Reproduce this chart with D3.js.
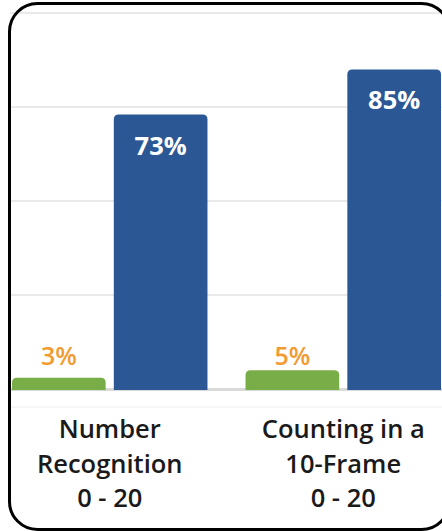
<!DOCTYPE html>
<html>
<head>
<meta charset="utf-8">
<script src="https://cdn.jsdelivr.net/npm/d3@7"></script>
<style>
  html, body { margin: 0; padding: 0; background: #fff; overflow: hidden; }
  svg { display: block; }
</style>
</head>
<body>
<script>
var categories = ['Number Recognition 0 - 20', 'Counting in a 10-Frame 0 - 20'];
var categoryLines = [
	['Number', 'Recognition', '0 - 20'],
	['Counting in a', '10-Frame', '0 - 20']
];
var series = ['pre', 'post'];
var preValues = [3, 5];
var postValues = [73, 85];
var yTicks = [0, 25, 50, 75, 100];

var width = 442,
	height = 531;

var colors = {pre: '#79ad47', post: '#2b5794'};
var labelColors = {pre: '#f39a31', post: '#ffffff'};

var svg = d3.select('body')
	.append('svg')
	.attr('width', width)
	.attr('height', height);

var dataList = categories.map((c, i) => ({
	key: c,
	lines: categoryLines[i],
	values: [
		{series: 'pre', value: preValues[i]},
		{series: 'post', value: postValues[i]}
	]
}));

var xScale = d3.scaleBand()
	.domain(categories)
	.range([12, 441])
	.paddingInner(0.163)
	.paddingOuter(0);

var xInner = d3.scaleBand()
	.domain(series)
	.range([0, xScale.bandwidth()])
	.paddingInner(0.08);

var yScale = d3.scaleLinear()
	.domain([0, 100])
	.range([389, 13]);

// gridlines
svg.append('g')
	.selectAll('line')
	.data(yTicks.filter(t => t > 0))
	.enter()
	.append('line')
	.attr('x1', 10)
	.attr('x2', width)
	.attr('y1', d => yScale(d))
	.attr('y2', d => yScale(d))
	.attr('stroke', '#d6d6d6')
	.attr('stroke-width', 1.2);

// baseline
svg.append('line')
	.attr('x1', 10)
	.attr('x2', width)
	.attr('y1', yScale(0) + 0.5)
	.attr('y2', yScale(0) + 0.5)
	.attr('stroke', '#d9d9d9')
	.attr('stroke-width', 3);

svg.append('line')
	.attr('x1', 10)
	.attr('x2', width)
	.attr('y1', yScale(0) + 18)
	.attr('y2', yScale(0) + 18)
	.attr('stroke', '#ececec')
	.attr('stroke-width', 1);

function topRounded(x, y, w, h, r) {
	r = Math.min(r, h, w / 2);
	return `M${x},${y + h}V${y + r}Q${x},${y} ${x + r},${y}H${x + w - r}Q${x + w},${y} ${x + w},${y + r}V${y + h}Z`;
}

var groups = svg.selectAll('.group')
	.data(dataList)
	.enter()
	.append('g')
	.attr('class', 'group')
	.attr('transform', d => `translate(${xScale(d.key)}, 0)`);

var bars = groups.selectAll('.bar')
	.data(d => d.values)
	.enter()
	.append('g')
	.attr('class', 'bar');

bars.append('path')
	.attr('d', d => {
		var y = yScale(d.value);
		return topRounded(xInner(d.series), y, xInner.bandwidth(), yScale(0) + 1 - y, 5);
	})
	.attr('fill', d => colors[d.series]);

// value labels: inside the tall bars, just above the short ones
bars.append('text')
	.text(d => d.value + '%')
	.attr('x', d => xInner(d.series) + xInner.bandwidth() / 2)
	.attr('y', d => d.series === 'post' ? yScale(d.value) + 40 : yScale(0) - 24)
	.attr('text-anchor', 'middle')
	.attr('fill', d => labelColors[d.series])
	.attr('font-family', '"Open Sans", sans-serif')
	.attr('font-weight', d => d.series === 'post' ? 700 : 600)
	.attr('font-size', d => d.series === 'post' ? 25.5 : 25);

// category labels
groups.append('text')
	.attr('text-anchor', 'middle')
	.attr('fill', '#1a1a1a')
	.attr('font-family', '"Open Sans", sans-serif')
	.attr('font-weight', 600)
	.attr('font-size', 25.5)
	.selectAll('tspan')
	.data(d => d.lines)
	.enter()
	.append('tspan')
	.attr('x', xScale.bandwidth() / 2)
	.attr('y', (d, i) => 438 + i * 34.5)
	.text(d => d);

// frame (right side runs past the window edge)
svg.append('rect')
	.attr('x', 9.5)
	.attr('y', 3.5)
	.attr('width', 440)
	.attr('height', 526)
	.attr('rx', 28)
	.attr('fill', 'none')
	.attr('stroke', '#000')
	.attr('stroke-width', 3);
</script>
</body>
</html>
